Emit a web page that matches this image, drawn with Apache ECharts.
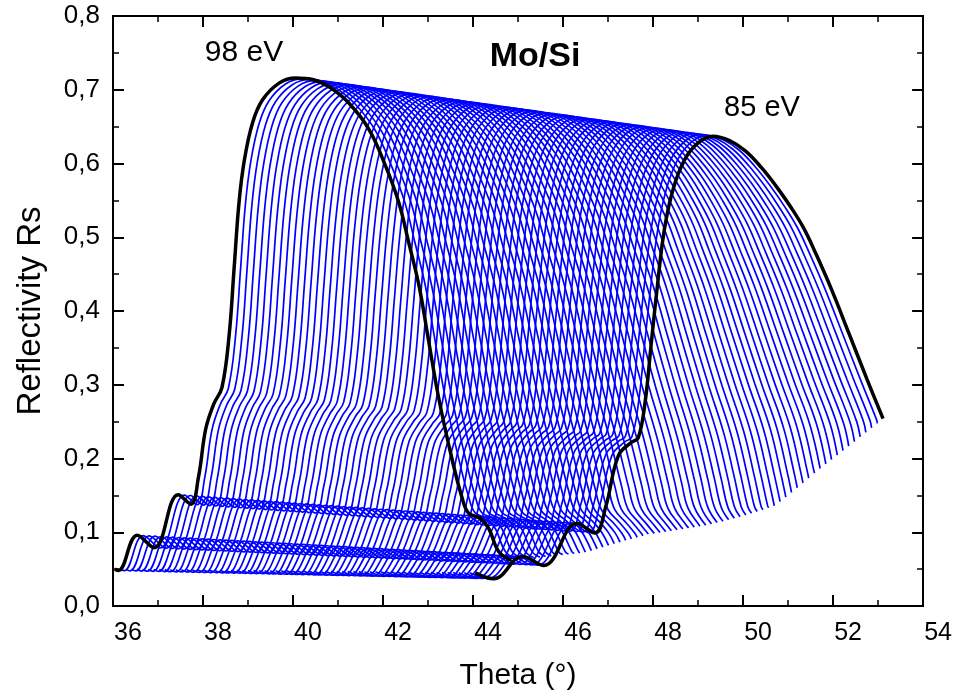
<!DOCTYPE html>
<html lang="en">

<head>
    <meta charset="UTF-8" />
    <title>Mo/Si reflectivity</title>
    <script src="https://cdn.jsdelivr.net/npm/echarts@6/dist/echarts.min.js"></script>
    <style>
        * {
            margin: 0;
        }

        #chart {
            width: 955px;
            height: 696px;
            background: #fff;
        }
    </style>
</head>

<body>
    <div id="chart"></div>
    <script>
        // photon energies of the family, one curve each (eV)
        const energies = [
            85.0, 85.2, 85.4, 85.6, 85.8, 86.0, 86.2, 86.4, 86.6, 86.8,
            87.0, 87.2, 87.4, 87.6, 87.8, 88.0, 88.2, 88.4, 88.6, 88.8,
            89.0, 89.2, 89.4, 89.6, 89.8, 90.0, 90.2, 90.4, 90.6, 90.8,
            91.0, 91.2, 91.4, 91.6, 91.8, 92.0, 92.2, 92.4, 92.6, 92.8,
            93.0, 93.2, 93.4, 93.6, 93.8, 94.0, 94.2, 94.4, 94.6, 94.8,
            95.0, 95.2, 95.4, 95.6, 95.8, 96.0, 96.2, 96.4, 96.6, 96.8,
            97.0, 97.2, 97.4, 97.6, 97.8, 98.0
        ];

        // 98 eV curve [theta, Rs]
        const curve98 = [
            [36.04, 0.050], [36.12, 0.048], [36.54, 0.096], [36.91, 0.079], [37.45, 0.151],
            [37.73, 0.138], [37.90, 0.175], [38.06, 0.240], [38.24, 0.274], [38.42, 0.296],
            [38.58, 0.367], [38.69, 0.457], [38.80, 0.547], [38.92, 0.605], [39.10, 0.655],
            [39.32, 0.686], [39.69, 0.709], [40.06, 0.716], [40.43, 0.714], [40.80, 0.704],
            [41.24, 0.682], [41.69, 0.646], [42.06, 0.596], [42.35, 0.547], [42.57, 0.493],
            [42.80, 0.434], [43.02, 0.357], [43.24, 0.281], [43.53, 0.200], [43.76, 0.146],
            [43.90, 0.126], [44.16, 0.119], [44.35, 0.105], [44.57, 0.074], [44.85, 0.062]
        ];

        // 85 eV curve, same feature order as curve98
        const curve85 = [
            [44.05, 0.045], [44.46, 0.037], [45.10, 0.067], [45.57, 0.055], [46.31, 0.112],
            [46.71, 0.099], [46.95, 0.135], [47.23, 0.204], [47.52, 0.222], [47.67, 0.228],
            [47.82, 0.275], [47.95, 0.350], [48.08, 0.425], [48.25, 0.510], [48.45, 0.566],
            [48.70, 0.605], [49.00, 0.628], [49.33, 0.637], [49.70, 0.631], [50.05, 0.617],
            [50.40, 0.595], [50.75, 0.568], [51.07, 0.540], [51.35, 0.512], [51.60, 0.480],
            [51.96, 0.430], [52.35, 0.370], [52.75, 0.308], [53.11, 0.254]
        ];

        // guessed fall-off of the 85 eV curve past its plotted end (only shapes the blue tails)
        const tail85 = [
            [53.35, 0.190], [53.50, 0.140], [53.75, 0.100], [53.95, 0.085], [54.20, 0.070], [54.45, 0.060]
        ];

        const yTicks = ["0,0", "0,1", "0,2", "0,3", "0,4", "0,5", "0,6", "0,7", "0,8"];

        // each intermediate energy sits between the two measured shapes
        function familyCurve(energy) {
            const t = (98 - energy) / (98 - 85);
            const b = curve85.concat(tail85);
            const pts = curve98.map((a, i) => [a[0] + t * (b[i][0] - a[0]), a[1] + t * (b[i][1] - a[1])]);
            const a0 = curve98[curve98.length - 1][0];
            const b0 = curve85[curve85.length - 1][0];
            const endX = a0 + t * (b0 - a0);
            const out = [];
            for (let i = 0; i < pts.length; i++) {
                if (pts[i][0] <= endX) {
                    out.push(pts[i]);
                } else {
                    const p = pts[i - 1], q = pts[i];
                    const f = (endX - p[0]) / (q[0] - p[0]);
                    out.push([endX, p[1] + f * (q[1] - p[1])]);
                    break;
                }
            }
            return out;
        }

        const font = '"Liberation Sans", Arial, sans-serif';

        const blueSeries = energies
            .filter((e) => e !== 85 && e !== 98)
            .map((e) => ({
                name: e.toFixed(1) + " eV",
                type: "line",
                data: familyCurve(e),
                showSymbol: false,
                symbol: "none",
                smooth: 0.4,
                silent: true,
                lineStyle: { color: "#0000ff", width: 1.7 },
                z: 2,
            }));

        const blackSeries = [curve98, curve85].map((d, i) => ({
            name: i === 0 ? "98 eV" : "85 eV",
            type: "line",
            data: d,
            showSymbol: false,
            symbol: "none",
            smooth: 0.4,
            silent: true,
            lineStyle: { color: "#000", width: 3.5 },
            z: 3,
        }));

        const frameLine = { show: true, onZero: false, lineStyle: { color: "#000", width: 2 } };
        const majorTick = { show: true, inside: true, length: 11, lineStyle: { color: "#000", width: 2 } };
        const minorTick = { show: true, splitNumber: 2, length: 6, lineStyle: { color: "#000", width: 1.5 } };

        const myChart = echarts.init(document.getElementById("chart"));
        const option = {
            animation: false,
            backgroundColor: "#fff",
            grid: { left: 113, right: 30, top: 16, bottom: 88 },
            xAxis: [
                {
                    type: "value",
                    position: "bottom",
                    min: 36,
                    max: 54,
                    interval: 2,
                    axisLine: frameLine,
                    axisTick: majorTick,
                    minorTick: minorTick,
                    splitLine: { show: false },
                    axisLabel: {
                        color: "#000",
                        fontFamily: font,
                        fontSize: 25,
                        margin: 15,
                        padding: [0, 0, 0, 30],
                    },
                    name: "Theta (°)",
                    nameLocation: "middle",
                    nameGap: 55,
                    nameTextStyle: { color: "#000", fontFamily: font, fontSize: 30 },
                },
                {
                    type: "value",
                    position: "top",
                    min: 36,
                    max: 54,
                    interval: 2,
                    axisLine: frameLine,
                    axisTick: majorTick,
                    minorTick: minorTick,
                    splitLine: { show: false },
                    axisLabel: { show: false },
                },
            ],
            yAxis: [
                {
                    type: "value",
                    position: "left",
                    min: 0,
                    max: 0.8,
                    interval: 0.1,
                    axisLine: frameLine,
                    axisTick: majorTick,
                    minorTick: minorTick,
                    splitLine: { show: false },
                    axisLabel: {
                        color: "#000",
                        fontFamily: font,
                        fontSize: 26,
                        margin: 13,
                        formatter: (v) => yTicks[Math.round(v * 10)],
                    },
                    name: "Reflectivity Rs",
                    nameLocation: "middle",
                    nameGap: 66,
                    nameTextStyle: { color: "#000", fontFamily: font, fontSize: 33 },
                },
                {
                    type: "value",
                    position: "right",
                    min: 0,
                    max: 0.8,
                    interval: 0.1,
                    axisLine: frameLine,
                    axisTick: majorTick,
                    minorTick: minorTick,
                    splitLine: { show: false },
                    axisLabel: { show: false },
                },
            ],
            graphic: [
                {
                    type: "text",
                    x: 244,
                    y: 53,
                    style: { text: "98 eV", fill: "#000", font: "30px " + font, align: "center", verticalAlign: "middle" },
                },
                {
                    type: "text",
                    x: 535,
                    y: 57,
                    style: { text: "Mo/Si", fill: "#000", font: "bold 34px " + font, align: "center", verticalAlign: "middle" },
                },
                {
                    type: "text",
                    x: 762,
                    y: 108,
                    style: { text: "85 eV", fill: "#000", font: "29px " + font, align: "center", verticalAlign: "middle" },
                },
            ],
            series: blueSeries.concat(blackSeries),
        };

        myChart.setOption(option);
    </script>
</body>

</html>
